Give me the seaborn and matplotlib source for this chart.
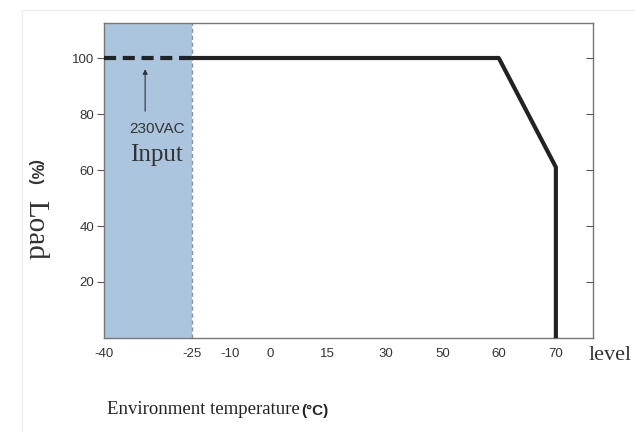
import numpy as np
import pandas as pd
import matplotlib
matplotlib.use("Agg")
import matplotlib.pyplot as plt
from matplotlib.lines import Line2D
import seaborn as sns

# ---- data ----
temp_ticks = [-40, -25, -10, 0, 15, 30, 50, 60, 70]
tick_spacing = [0, 88, 38, 40, 57, 58, 57, 56, 57]   # uneven axis spacing as drawn
load_ticks = [20, 40, 60, 80, 100]

curve_temp = [-25, 60, 70, 70]
curve_load = [100, 100, 61, 0]
dash_temp = [-40, -25]
dash_load = [100, 100]
shade_temp = [-40, -25]

sns.set_style("white")
plt.rcParams["font.family"] = ["Liberation Sans", "DejaVu Sans"]
SERIF = ["Liberation Serif", "DejaVu Serif"]

# piecewise-linear temperature scale
pos = np.cumsum(tick_spacing).astype(float)
t_arr = np.array(temp_ticks, float)
s_lo = (pos[1] - pos[0]) / (t_arr[1] - t_arr[0])
s_hi = (pos[-1] - pos[-2]) / (t_arr[-1] - t_arr[-2])
ext_t = np.concatenate([[t_arr[0] - 500], t_arr, [t_arr[-1] + 500]])
ext_p = np.concatenate([[pos[0] - 500 * s_lo], pos, [pos[-1] + 500 * s_hi]])


def fwd(x):
    return np.interp(x, ext_t, ext_p)


def inv(p):
    return np.interp(p, ext_p, ext_t)


fig = plt.figure(figsize=(6.35, 4.32), dpi=100)
# faint page border
fig.add_artist(Line2D([22 / 635, 1], [1 - 10 / 432, 1 - 10 / 432], color="#efefef", lw=1))
fig.add_artist(Line2D([22 / 635, 22 / 635], [0, 1 - 10 / 432], color="#efefef", lw=1))

ax = fig.add_axes([104 / 635, 1 - 338 / 432, (593 - 104) / 635, (338 - 23) / 432])
ax.set_xscale("function", functions=(fwd, inv))

ax.fill_between(shade_temp, 0, 112.5, color="#abc5de", lw=0, zorder=1)
ax.axvline(shade_temp[1], color="#8393a8", lw=1, ls=(0, (3, 2)), zorder=2)

df_c = pd.DataFrame({"t": curve_temp, "l": curve_load})
sns.lineplot(data=df_c, x="t", y="l", sort=False, estimator=None, color="#222222",
             lw=3, ax=ax, zorder=3)
df_d = pd.DataFrame({"t": dash_temp, "l": dash_load})
sns.lineplot(data=df_d, x="t", y="l", sort=False, estimator=None, color="#222222",
             lw=3, ax=ax, zorder=3)
ax.lines[-1].set_dashes((2.9, 1.6))

ax.set_xlim(-40, 76.5)
ax.set_ylim(0, 112.5)
ax.set_xticks(temp_ticks)
ax.set_xticklabels([str(t) for t in temp_ticks], fontsize=9.5, color="#333333")
ax.set_yticks(load_ticks)
ax.set_yticklabels([str(v) for v in load_ticks], fontsize=9.5, color="#333333")
ax.xaxis.set_minor_locator(matplotlib.ticker.NullLocator())
ax.tick_params(axis="x", direction="in", length=5, width=0.8, color="#555555", pad=7)
ax.tick_params(axis="y", direction="out", length=5, width=0.8, color="#555555", pad=2,
               left=True, right=False)
for sp in ax.spines.values():
    sp.set_color("#777777")
    sp.set_linewidth(1)
ax.set_xlabel("")
ax.set_ylabel("")

# right-side ticks pointing inward
ax2 = ax.twinx()
ax2.set_ylim(ax.get_ylim())
ax2.set_yticks(load_ticks)
ax2.tick_params(axis="y", direction="in", length=5, width=0.8, color="#555555", labelright=False)
for sp in ax2.spines.values():
    sp.set_visible(False)

# annotation
ax.annotate("", xy=(-33, 97), xytext=(-33, 80),
            arrowprops=dict(arrowstyle="-|>", color="#333333", lw=0.8, mutation_scale=7))
ax.text(-31.0, 74.5, "230VAC", ha="center", va="center", fontsize=11, color="#333333")
ax.text(-31.0, 65.5, "Input", ha="center", va="center", fontsize=18, color="#333333",
        family=SERIF)

# axis titles
fig.text(35 / 635, 1 - 172 / 432, "(%)", rotation=-90, ha="center", va="center",
         fontsize=12, fontweight="bold", color="#333333")
fig.text(35 / 635, 1 - 230 / 432, "Load", rotation=-90, ha="center", va="center",
         fontsize=21, color="#333333", family=SERIF)
fig.text(589 / 635, 1 - 355 / 432, "level", ha="left", va="center",
         fontsize=16, color="#333333", family=SERIF)
t1 = fig.text(107 / 635, 1 - 410 / 432, "Environment temperature", ha="left", va="center",
              fontsize=13.5, color="#222222", family=SERIF)
fig.canvas.draw()
bb = t1.get_window_extent()
fig.text((bb.x1 + 1) / 635, 1 - 411 / 432, "(°C)", ha="left", va="center",
         fontsize=11, fontweight="bold", color="#222222")

fig.savefig("out.png", dpi=100)
